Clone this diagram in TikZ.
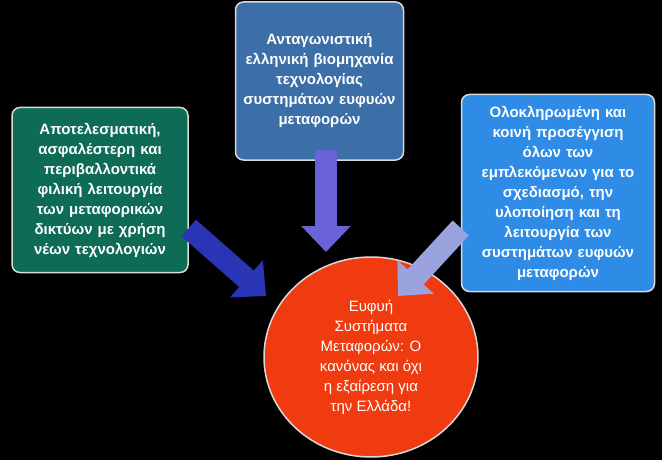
\documentclass[tikz,border=0pt]{standalone}
\usepackage{fontspec}
\setmainfont{Liberation Sans}
\usetikzlibrary{arrows.meta, positioning, shapes.geometric}
\definecolor{topblue}{HTML}{3C6EA8}
\definecolor{leftgreen}{HTML}{0E6B55}
\definecolor{rightblue}{HTML}{2E8BE6}
\definecolor{hubred}{HTML}{F03A10}
\definecolor{arrowtop}{HTML}{6A63D8}
\definecolor{arrowleft}{HTML}{2A35B5}
\definecolor{arrowright}{HTML}{9AA3DE}
\tikzset{
  box/.style={rounded corners=8pt, draw=white!70!gray, line width=1.5pt, text=white,
    font=\bfseries\fontsize{15}{20}\selectfont, align=center, inner sep=4pt},
  fat/.style={line width=22pt, -{Triangle[length=26pt, width=48pt]}}
}
\begin{document}
\begin{tikzpicture}[x=1pt, y=-1pt]
    % background
    \fill[black] (0,0) rectangle (662,460);
    \useasboundingbox (0,0) rectangle (662,460);

    % three sources
    \node (Industry) at (319.5,81) [box, fill=topblue, minimum width=165pt, minimum height=158pt, text width=160pt]
      {Ανταγωνιστική\\ελληνική βιομηχανία\\τεχνολογίας\\συστημάτων ευφυών\\μεταφορών};
    \node (Operation) at (100,190) [box, fill=leftgreen, minimum width=176pt, minimum height=165pt, text width=168pt]
      {Αποτελεσματική,\\ασφαλέστερη και\\περιβαλλοντικά\\φιλική λειτουργία\\των μεταφορικών\\δικτύων με χρήση\\νέων τεχνολογιών};
    \node (Approach) at (558,193) [box, fill=rightblue, minimum width=193pt, minimum height=197pt, text width=185pt]
      {Ολοκληρωμένη και\\κοινή προσέγγιση\\όλων των\\εμπλεκόμενων για το\\σχεδιασμό, την\\υλοποίηση και τη\\λειτουργία των\\συστημάτων ευφυών\\μεταφορών};

    % hub
    \node (Hub) at (371,357) [ellipse, fill=hubred, draw=white!70!gray, line width=1.5pt, minimum width=214pt, minimum height=200pt,
      text=white, font=\fontsize{15}{20}\selectfont, align=center, inner sep=0pt]
      {Ευφυή\\Συστήματα\\Μεταφορών: Ο\\κανόνας και όχι\\η εξαίρεση για\\την Ελλάδα!};

    % arrows
    \draw[fat, arrowtop] (326,150) -- (326,252);
    \draw[fat, arrowleft] (Operation.east |- 0,228) -- (266,296);
    \draw[fat, arrowright] (Approach.west |- 0,228) -- (398,296);
\end{tikzpicture}
\end{document}
